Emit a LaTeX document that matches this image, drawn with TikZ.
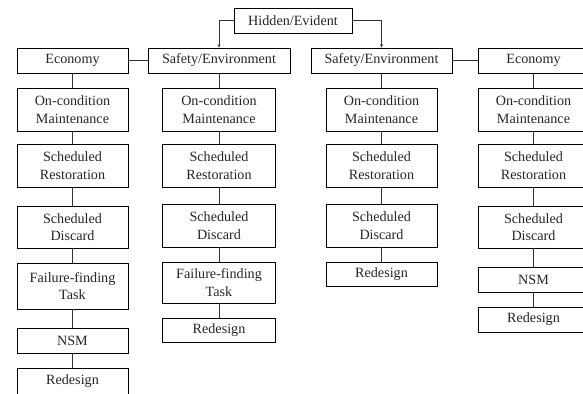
\documentclass[tikz,border=0pt]{standalone}
\usepackage{fontspec}
\setmainfont{Liberation Serif}
\usetikzlibrary{arrows.meta}
\tikzset{
  box/.style={draw=black, line width=0.8bp, fill=white, inner sep=0pt, align=center,
    font=\fontsize{14.2}{17.4}\selectfont, text=black!85},
  conn/.style={draw=black!80, line width=0.8bp},
  arr/.style={conn, -{Stealth[length=3.5bp,width=3bp]}}
}
\newcommand{\bx}[6]{\node[box, minimum width=#4 bp, minimum height=#5 bp] (#1) at (#2,#3) {#6};}
\begin{document}
\begin{tikzpicture}[x=1bp,y=-1bp]
\useasboundingbox (0,0) rectangle (583,393);
\clip (0,0) rectangle (583,393);
% top
\bx{H}{293}{20.5}{118}{25}{Hidden/Evident}
\bx{E1}{72.5}{60.5}{111}{25}{Economy}
\bx{S2}{219}{60.5}{142}{25}{Safety/Environment}
\bx{S3}{381.5}{60.5}{141}{25}{Safety/Environment}
\bx{E4}{533.5}{60.5}{111}{25}{Economy}
% column 1
\bx{a1}{72.5}{109.5}{111}{43}{On-condition\\Maintenance}
\bx{a2}{72.5}{165.5}{111}{43}{Scheduled\\Restoration}
\bx{a3}{72.5}{227}{111}{42}{Scheduled\\Discard}
\bx{a4}{72.5}{286}{111}{46}{Failure-finding\\Task}
\bx{a5}{72.5}{340.5}{111}{25}{NSM}
\bx{a6}{72.5}{381.5}{111}{27}{Redesign}
% column 2
\bx{b1}{219}{109.5}{113}{43}{On-condition\\Maintenance}
\bx{b2}{219}{165.5}{113}{43}{Scheduled\\Restoration}
\bx{b3}{219}{225.5}{113}{43}{Scheduled\\Discard}
\bx{b4}{219}{282.5}{113}{41}{Failure-finding\\Task}
\bx{b5}{219}{330}{113}{24}{Redesign}
% column 3
\bx{c1}{381.5}{109.5}{111}{43}{On-condition\\Maintenance}
\bx{c2}{381.5}{165.5}{111}{43}{Scheduled\\Restoration}
\bx{c3}{381.5}{225.5}{111}{43}{Scheduled\\Discard}
\bx{c4}{381.5}{274}{111}{24}{Redesign}
% column 4
\bx{d1}{533.5}{109.5}{111}{43}{On-condition\\Maintenance}
\bx{d2}{533.5}{165.5}{111}{43}{Scheduled\\Restoration}
\bx{d3}{533.5}{227}{111}{42}{Scheduled\\Discard}
\bx{d4}{533.5}{279.5}{111}{25}{NSM}
\bx{d5}{533.5}{319.5}{111}{25}{Redesign}
% connectors
\draw[arr] (H.west) -| (S2.north);
\draw[arr] (H.east) -| (S3.north);
\draw[conn] (E1) -- (S2);
\draw[conn] (S3) -- (E4);
\draw[conn] (E1) -- (a1) (a1) -- (a2) (a2) -- (a3) (a3) -- (a4) (a4) -- (a5) (a5) -- (a6);
\draw[conn] (S2) -- (b1) (b1) -- (b2) (b2) -- (b3) (b3) -- (b4) (b4) -- (b5);
\draw[conn] (S3) -- (c1) (c1) -- (c2) (c2) -- (c3) (c3) -- (c4);
\draw[conn] (E4) -- (d1) (d1) -- (d2) (d2) -- (d3) (d3) -- (d4) (d4) -- (d5);
\end{tikzpicture}
\end{document}
